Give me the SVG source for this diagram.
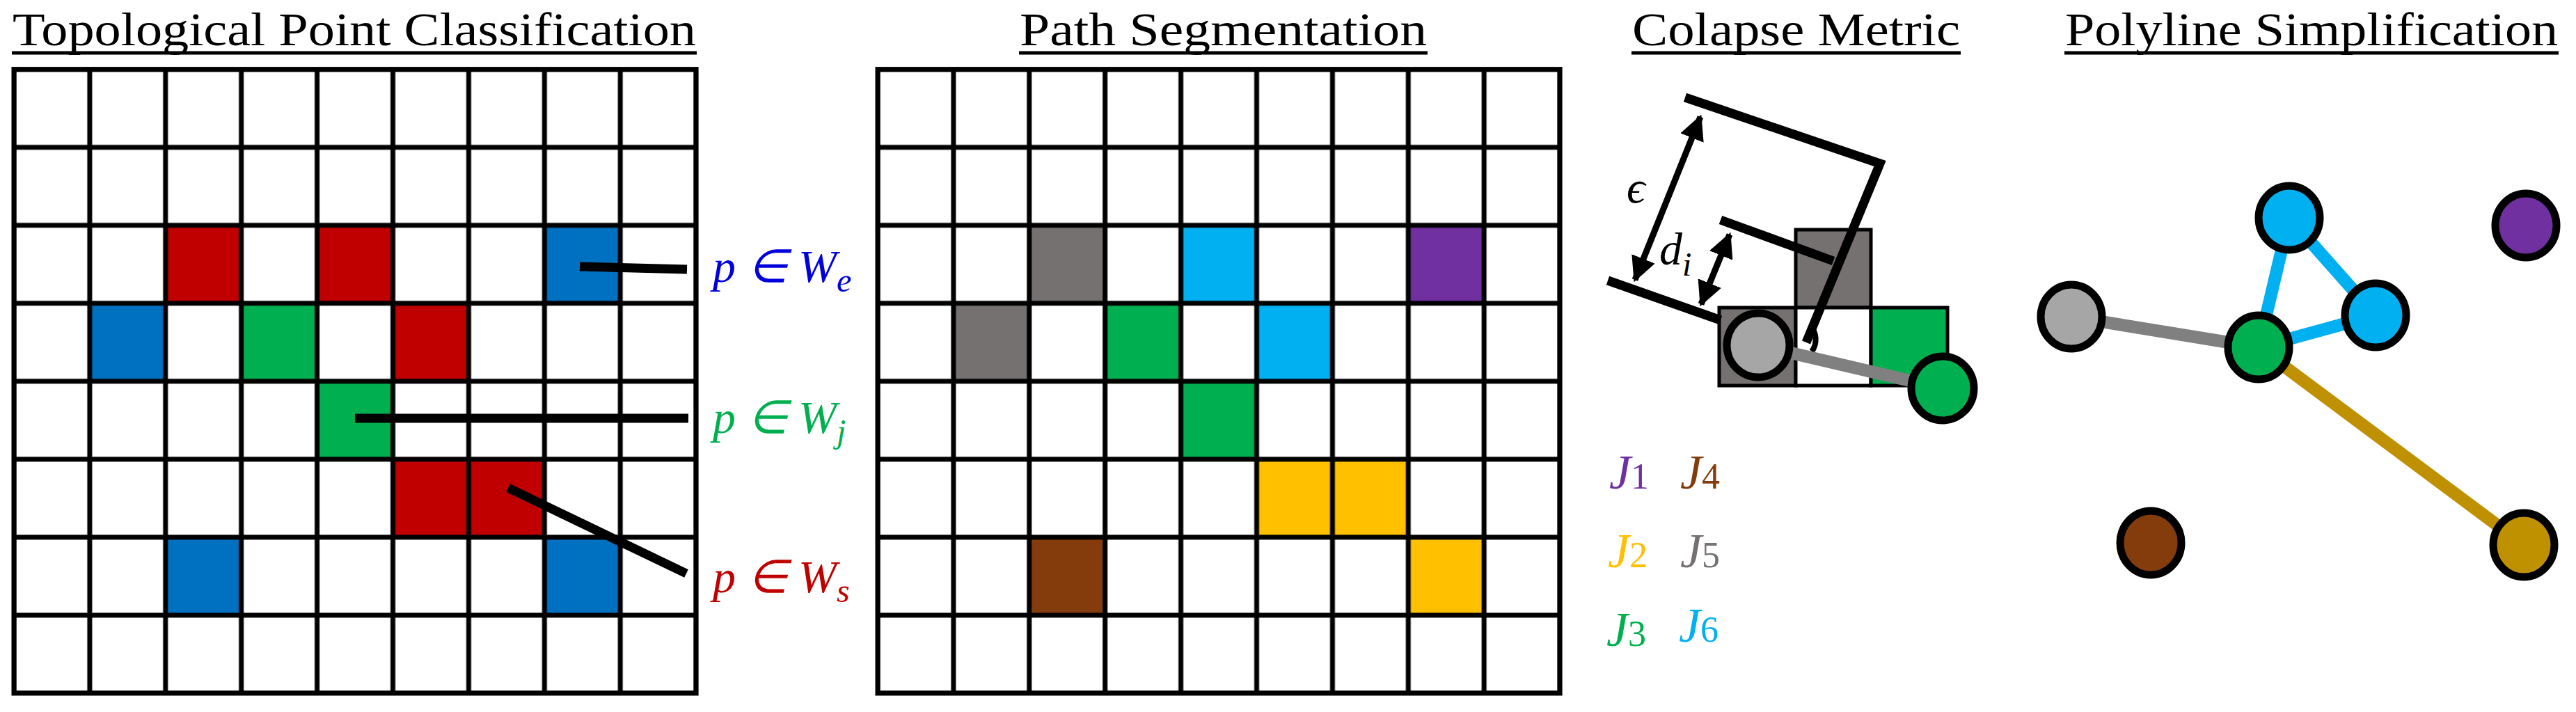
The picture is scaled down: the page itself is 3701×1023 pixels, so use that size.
<svg xmlns="http://www.w3.org/2000/svg" width="3701" height="1023" viewBox="0 0 3701 1023">
<style>
.t{font-family:"Liberation Serif",serif;font-size:68px;fill:#000}
.m{font-family:"Liberation Serif",serif;font-style:italic;font-size:66px}
.g{fill:none;stroke:#000;stroke-width:7}
.c{stroke:#000;stroke-width:5}
.n{stroke:#000;stroke-width:11}
.bl{stroke:#000;stroke-width:13;fill:none}
</style>
<defs>
<pattern id="grid" x="20" y="99.6" width="108.9" height="112.05" patternUnits="userSpaceOnUse">
<rect width="108.9" height="112.05" fill="none" stroke="#000" stroke-width="7"/>
</pattern>
<pattern id="grid2" x="1261" y="99.6" width="108.9" height="112.05" patternUnits="userSpaceOnUse">
<rect width="108.9" height="112.05" fill="none" stroke="#000" stroke-width="7"/>
</pattern>
<marker id="ah" viewBox="0 0 10 10" refX="9" refY="5" markerWidth="4" markerHeight="4" orient="auto-start-reverse"><path d="M0,0L10,5L0,10z" fill="#000"/></marker>
</defs>
<rect width="3701" height="1023" fill="#fff"/>
<text class="t" x="18" y="65" textLength="982" lengthAdjust="spacingAndGlyphs">Topological Point Classification</text>
<line x1="17" y1="76" x2="1001" y2="76" stroke="#000" stroke-width="5"/>
<text class="t" x="1465" y="65" textLength="585" lengthAdjust="spacingAndGlyphs">Path Segmentation</text>
<line x1="1464" y1="76" x2="2051" y2="76" stroke="#000" stroke-width="5"/>
<text class="t" x="2345" y="65" textLength="471" lengthAdjust="spacingAndGlyphs">Colapse Metric</text>
<line x1="2344" y1="76" x2="2817" y2="76" stroke="#000" stroke-width="5"/>
<text class="t" x="2967" y="65" textLength="708" lengthAdjust="spacingAndGlyphs">Polyline Simplification</text>
<line x1="2966" y1="76" x2="3676" y2="76" stroke="#000" stroke-width="5"/>

<g id="grid1">
<rect x="237.8" y="323.7" width="108.9" height="112.05" fill="#c00000"/>
<rect x="455.6" y="323.7" width="108.9" height="112.05" fill="#c00000"/>
<rect x="564.5" y="435.75" width="108.9" height="112.05" fill="#c00000"/>
<rect x="564.5" y="659.85" width="108.9" height="112.05" fill="#c00000"/>
<rect x="673.4" y="659.85" width="108.9" height="112.05" fill="#c00000"/>
<rect x="782.3" y="323.7" width="108.9" height="112.05" fill="#0070c0"/>
<rect x="128.9" y="435.75" width="108.9" height="112.05" fill="#0070c0"/>
<rect x="237.8" y="771.9" width="108.9" height="112.05" fill="#0070c0"/>
<rect x="782.3" y="771.9" width="108.9" height="112.05" fill="#0070c0"/>
<rect x="346.7" y="435.75" width="108.9" height="112.05" fill="#00b050"/>
<rect x="455.6" y="547.8" width="108.9" height="112.05" fill="#00b050"/>
<rect x="20" y="99.6" width="980.1" height="896.4" fill="url(#grid)"/>
<rect x="20" y="99.6" width="980.1" height="896.4" class="g"/>
</g>
<g id="grid2g">
<rect x="1478.8" y="323.7" width="108.9" height="112.05" fill="#767171"/>
<rect x="1369.9" y="435.75" width="108.9" height="112.05" fill="#767171"/>
<rect x="1696.6" y="323.7" width="108.9" height="112.05" fill="#00b0f0"/>
<rect x="1805.5" y="435.75" width="108.9" height="112.05" fill="#00b0f0"/>
<rect x="2023.3" y="323.7" width="108.9" height="112.05" fill="#7030a0"/>
<rect x="1587.7" y="435.75" width="108.9" height="112.05" fill="#00b050"/>
<rect x="1696.6" y="547.8" width="108.9" height="112.05" fill="#00b050"/>
<rect x="1805.5" y="659.85" width="108.9" height="112.05" fill="#ffc000"/>
<rect x="1914.4" y="659.85" width="108.9" height="112.05" fill="#ffc000"/>
<rect x="2023.3" y="771.9" width="108.9" height="112.05" fill="#ffc000"/>
<rect x="1478.8" y="771.9" width="108.9" height="112.05" fill="#843c0c"/>
<rect x="1261" y="99.6" width="980.1" height="896.4" fill="url(#grid2)"/>
<rect x="1261" y="99.6" width="980.1" height="896.4" class="g"/>
</g>

<g id="labels1">
<line x1="833" y1="383" x2="987" y2="387" class="bl"/>
<line x1="510" y1="601" x2="989" y2="601" class="bl"/>
<line x1="730" y1="701" x2="986" y2="824" class="bl"/>
<text class="m" x="1024" y="405" fill="#0000dd">p ∈ W<tspan font-size="48" dy="14">e</tspan></text>
<text class="m" x="1024" y="622" fill="#00b050">p ∈ W<tspan font-size="48" dy="14">j</tspan></text>
<text class="m" x="1024" y="851" fill="#c00000">p ∈ W<tspan font-size="48" dy="14">s</tspan></text>
</g>

<g id="collapse">
<rect x="2580" y="330" width="108" height="112" fill="#767171" class="c"/>
<rect x="2470" y="442" width="110" height="112" fill="#767171" class="c"/>
<rect x="2580" y="442" width="108" height="112" fill="#fff" class="c"/>
<rect x="2688" y="442" width="110" height="112" fill="#00b050" class="c"/>
<polyline points="2421,140 2701,235 2595,492" class="bl"/>
<line x1="2310" y1="403" x2="2472" y2="460" class="bl"/>
<line x1="2472" y1="316" x2="2634" y2="375" class="bl"/>
<line x1="2349" y1="402" x2="2443" y2="168" stroke="#000" stroke-width="9" marker-start="url(#ah)" marker-end="url(#ah)"/>
<line x1="2444" y1="437" x2="2485" y2="337" stroke="#000" stroke-width="9" marker-start="url(#ah)" marker-end="url(#ah)"/>
<path d="M2601,468 A22,26 0 0 1 2603,505" fill="none" stroke="#000" stroke-width="8"/>
<text class="m" x="2337" y="291" fill="#000" font-size="66">ϵ</text>
<text class="m" x="2384" y="380" fill="#000" font-size="66">d<tspan font-size="48" dy="16">i</tspan></text>
<line x1="2526" y1="496" x2="2791" y2="558" stroke="#808080" stroke-width="18"/>
<ellipse cx="2526" cy="496" rx="45" ry="46" fill="#a6a6a6" class="n"/>
<ellipse cx="2791" cy="558" rx="45" ry="46" fill="#00b050" class="n"/>
</g>

<g id="legend" font-family="Liberation Serif, serif" font-size="70" font-style="italic">
<text x="2312" y="702" fill="#7030a0">J<tspan font-style="normal" font-size="52">1</tspan></text>
<text x="2414" y="702" fill="#843c0c">J<tspan font-style="normal" font-size="52">4</tspan></text>
<text x="2310" y="815" fill="#ffc000">J<tspan font-style="normal" font-size="52">2</tspan></text>
<text x="2414" y="815" fill="#767171">J<tspan font-style="normal" font-size="52">5</tspan></text>
<text x="2308" y="928" fill="#00b050">J<tspan font-style="normal" font-size="52">3</tspan></text>
<text x="2412" y="922" fill="#00b0f0">J<tspan font-style="normal" font-size="52">6</tspan></text>
</g>

<g id="connectors">
<line x1="2976" y1="455" x2="3245" y2="499" stroke="#808080" stroke-width="18"/>
<polyline points="3245,499 3289,313 3413,453 3245,499" fill="none" stroke="#00b0f0" stroke-width="18" stroke-linejoin="round"/>
<line x1="3245" y1="499" x2="3626" y2="783" stroke="#bf9000" stroke-width="18"/>
</g>
<g id="n_gray"><ellipse cx="2976" cy="455" rx="44" ry="46" fill="#a6a6a6" class="n"/></g>
<g id="n_green"><ellipse cx="3245" cy="499" rx="44" ry="46" fill="#00b050" class="n"/></g>
<g id="n_blue1"><ellipse cx="3289" cy="313" rx="44" ry="46" fill="#00b0f0" class="n"/></g>
<g id="n_blue2"><ellipse cx="3413" cy="453" rx="44" ry="46" fill="#00b0f0" class="n"/></g>
<g id="n_purple"><ellipse cx="3629" cy="324" rx="44" ry="46" fill="#7030a0" class="n"/></g>
<g id="n_brown"><ellipse cx="3090" cy="780" rx="44" ry="46" fill="#843c0c" class="n"/></g>
<g id="n_gold"><ellipse cx="3626" cy="783" rx="44" ry="46" fill="#bf9000" class="n"/></g>
</svg>
